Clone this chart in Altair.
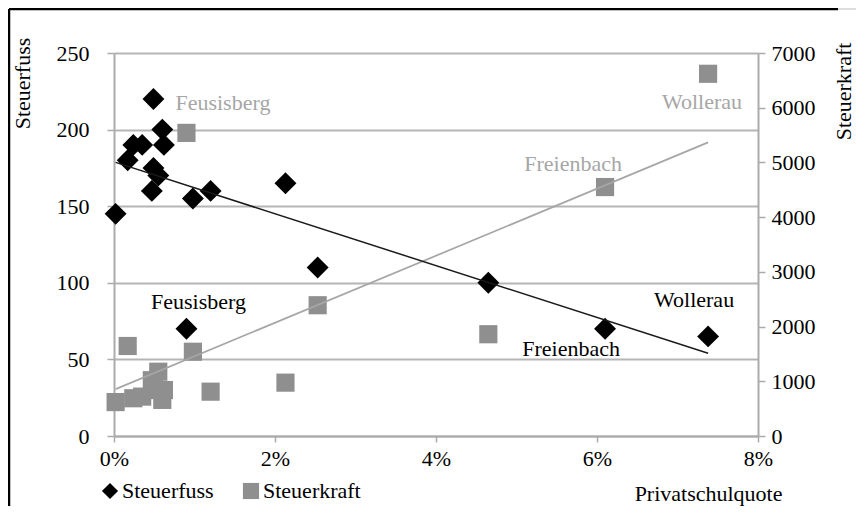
import altair as alt
import pandas as pd

# Data
gemeinde = ["", "", "", "", "", "", "", "", "", "", "Feusisberg", "", "", "", "", "", "Freienbach", "Wollerau"]
quote_pct = [0.02, 0.17, 0.24, 0.35, 0.47, 0.49, 0.49, 0.55, 0.60, 0.62, 0.90, 0.98, 1.20, 2.13, 2.53, 4.65, 6.10, 7.38]
steuerfuss = [145, 180, 190, 190, 160, 220, 175, 170, 200, 190, 70, 155, 160, 165, 110, 100, 70, 65]
steuerkraft = [620, 1645, 690, 720, 1020, 840, 1000, 1175, 660, 840, 5540, 1540, 810, 975, 2390, 1860, 4550, 6620]

series_names = ["Steuerfuss", "Steuerkraft"]
x_ticks = [0, 0.02, 0.04, 0.06, 0.08]
left_ticks = [0, 50, 100, 150, 200, 250]
right_ticks = [0, 1000, 2000, 3000, 4000, 5000, 6000, 7000]

df = pd.DataFrame({
    "gemeinde": gemeinde,
    "quote": quote_pct,
    "steuerfuss": steuerfuss,
    "steuerkraft": steuerkraft,
})

FONT = "Liberation Serif"
FS = 22
BLACK = "#000000"
GRAY = "#8f8f8f"
LGRAY = "#a6a6a6"
AXG = "#ababab"

base = alt.Chart(df).transform_calculate(q="datum.quote / 100")

xenc = alt.X(
    "q:Q",
    scale=alt.Scale(domain=[0, 0.08], nice=False),
    axis=alt.Axis(
        format=".0%", values=x_ticks, grid=False, title="Privatschulquote",
        titleX=668, titleY=57, titleAlign="right", titleBaseline="middle",
        titleFontWeight="normal", domainColor=AXG, domainWidth=2,
        tickColor=AXG, tickWidth=1.5, tickSize=6, labelPadding=6, labelFlush=False,
    ),
)

legend = alt.Legend(
    title=None, orient="none", legendX=-15, legendY=427, direction="horizontal",
    symbolSize=260, labelFontSize=FS, labelFont=FONT, labelColor=BLACK,
    columnPadding=26, labelOffset=1, symbolStrokeWidth=0, symbolOpacity=1,
)
color = alt.Color("series:N", scale=alt.Scale(domain=series_names, range=[BLACK, GRAY]), legend=legend)
shape = alt.Shape("series:N", scale=alt.Scale(domain=series_names, range=["diamond", "square"]), legend=legend)

yl = alt.Y(
    "steuerfuss:Q",
    scale=alt.Scale(domain=[0, 250], nice=False),
    axis=alt.Axis(
        values=left_ticks, title="Steuerfuss", grid=True, gridColor="#b5b5b5", gridWidth=2,
        domainColor=AXG, domainWidth=2, tickColor=AXG, tickWidth=1.5, tickSize=7,
        labelPadding=18, titleAngle=-90, titleX=-92, titleY=30, titleAlign="center",
        titleBaseline="middle", titleFontWeight="normal",
    ),
)
yr = alt.Y(
    "steuerkraft:Q",
    scale=alt.Scale(domain=[0, 7000], nice=False),
    axis=alt.Axis(
        orient="right", values=right_ticks, format="d", title="Steuerkraft", grid=False,
        domainColor=AXG, domainWidth=2, tickColor=AXG, tickWidth=1.5, tickSize=7,
        labelPadding=6, titleAngle=-90, titleX=85, titleY=38, titleAlign="center",
        titleBaseline="middle", titleFontWeight="normal",
    ),
)

fuss_pts = base.transform_calculate(series="'Steuerfuss'").mark_point(
    filled=True, size=480, opacity=1
).encode(x=xenc, y=yl, color=color, shape=shape)
fuss_line = base.transform_regression("q", "steuerfuss").mark_line(
    color="#1a1a1a", strokeWidth=1.5
).encode(x=xenc, y=yl)

kraft_pts = base.transform_calculate(series="'Steuerkraft'").mark_point(
    filled=True, size=330, opacity=1
).encode(x=xenc, y=yr, color=color, shape=shape)
kraft_line = base.transform_regression("q", "steuerkraft").mark_line(
    color=LGRAY, strokeWidth=1.7
).encode(x=xenc, y=yr)

# label specs: (gemeinde, series, align, dx, dy, colour)
label_specs = [
    ("Feusisberg", "steuerfuss", "center", 12, -27, BLACK),
    ("Wollerau", "steuerfuss", "center", -14, -36, BLACK),
    ("Freienbach", "steuerfuss", "center", -34, 20, BLACK),
    ("Feusisberg", "steuerkraft", "left", -11, -30, LGRAY),
    ("Wollerau", "steuerkraft", "right", 34, 28, LGRAY),
    ("Freienbach", "steuerkraft", "center", -32, -23, LGRAY),
]

fuss_texts = []
kraft_texts = []
for name, field, align, dx, dy, col in label_specs:
    yenc = yl if field == "steuerfuss" else yr
    t = base.transform_filter(alt.datum.gemeinde == name).mark_text(
        align=align, baseline="middle", dx=dx, dy=dy, font=FONT, fontSize=FS, color=col
    ).encode(x=xenc, y=yenc, text="gemeinde:N")
    (fuss_texts if field == "steuerfuss" else kraft_texts).append(t)

# outer figure frame (decoration, in pixels)
frame_data = alt.Chart(pd.DataFrame({"k": [0]}))
frame_left = frame_data.mark_rule(color=BLACK, strokeWidth=2.5).encode(
    x=alt.value(-105), y=alt.value(-44), y2=alt.value(470)
)
frame_top = frame_data.mark_rule(color=BLACK, strokeWidth=2.5).encode(
    x=alt.value(-105), x2=alt.value(724), y=alt.value(-44)
)
frame_top2 = frame_data.mark_rule(color="#bbbbbb", strokeWidth=1).encode(
    x=alt.value(724), x2=alt.value(745), y=alt.value(-44)
)

left = alt.layer(fuss_pts, fuss_line, *fuss_texts)
right = alt.layer(kraft_pts, kraft_line, *kraft_texts)

chart = alt.layer(right, left, frame_left, frame_top, frame_top2).resolve_scale(y="independent").properties(
    width=644, height=383,
    autosize=alt.AutoSizeParams(type="none"),
    padding={"left": 106, "top": 45, "right": 98, "bottom": 70},
).configure(font=FONT).configure_view(stroke=None).configure_axis(
    labelFont=FONT, labelFontSize=FS, labelColor=BLACK, titleFont=FONT,
    titleFontSize=FS, titleColor=BLACK,
)

chart.save("out.html", embed_options={"renderer": "svg", "actions": False})
